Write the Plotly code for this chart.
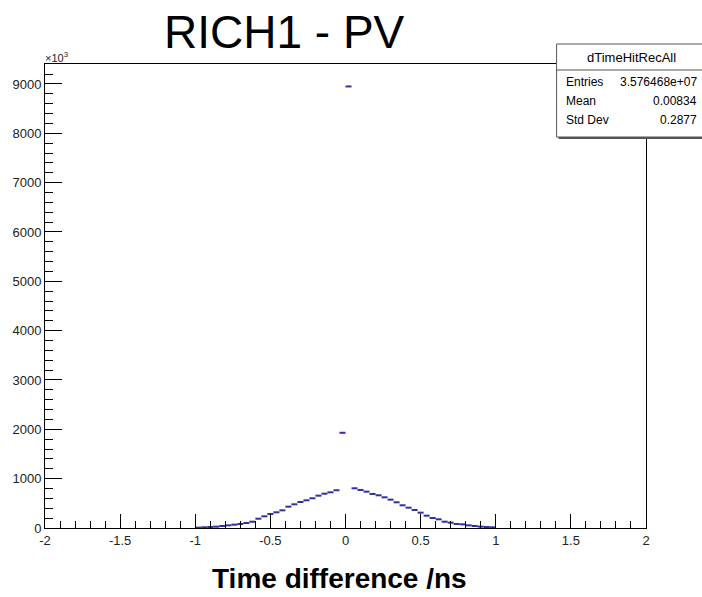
import plotly.graph_objects as go

# ---- data (values shown on the axis scale, in units of 10^3) ----
bin_centers = [-0.98, -0.94, -0.90, -0.86, -0.82, -0.78, -0.74, -0.70, -0.66, -0.62,
               -0.58, -0.54, -0.50, -0.46, -0.42, -0.38, -0.34, -0.30, -0.26, -0.22,
               -0.18, -0.14, -0.10, -0.06, -0.02, 0.02, 0.06, 0.10, 0.14, 0.18,
               0.22, 0.26, 0.30, 0.34, 0.38, 0.42, 0.46, 0.50, 0.54, 0.58,
               0.62, 0.66, 0.70, 0.74, 0.78, 0.82, 0.86, 0.90, 0.94, 0.98]
bin_counts = [7, 14, 20, 27, 41, 54, 68, 81, 101, 128,
              189, 237, 284, 318, 358, 433, 480, 527, 561, 602,
              656, 696, 723, 765, 1930, 8950, 805, 771, 737, 690,
              663, 622, 575, 521, 460, 412, 365, 311, 250, 203,
              176, 128, 108, 81, 74, 54, 41, 27, 20, 14]
bin_half_width = 0.02

x_ticks = [-2, -1.5, -1, -0.5, 0, 0.5, 1, 1.5, 2]
x_tick_labels = ["-2", "-1.5", "-1", "-0.5", "0", "0.5", "1", "1.5", "2"]
y_ticks = [0, 1000, 2000, 3000, 4000, 5000, 6000, 7000, 8000, 9000]
y_tick_labels = ["0", "1000", "2000", "3000", "4000", "5000", "6000", "7000", "8000", "9000"]

stats_title = "dTimeHitRecAll"
stats_names = ["Entries", "Mean", "Std Dev"]
stats_values = ["3.576468e+07", "0.00834", "0.2877"]

FONT = "Liberation Sans, Arial, Helvetica, sans-serif"
W, H = 702, 597
L, R, T, B = 41, 56, 64, 69
pw, ph = W - L - R, H - T - B


def px(x):
    return (x - L) / pw


def py(y):
    return (H - B - y) / ph


fig = go.Figure()
fig.add_trace(go.Scatter(
    x=bin_centers, y=bin_counts, mode="markers",
    marker=dict(size=1, color="#30309f"),
    error_x=dict(type="constant", value=bin_half_width, width=0,
                 thickness=2, color="#30309f"),
    showlegend=False, hoverinfo="x+y",
))

fig.update_layout(
    width=W, height=H,
    margin=dict(l=L, r=R, t=T, b=B, pad=0),
    paper_bgcolor="white", plot_bgcolor="white",
    font=dict(family=FONT, color="black"),
    xaxis=dict(
        range=[-2, 2], tickvals=x_ticks, ticktext=x_tick_labels,
        ticks="inside", ticklen=14, tickwidth=1, tickcolor="black",
        minor=dict(ticks="inside", dtick=0.1, ticklen=7, tickcolor="black", showgrid=False),
        showgrid=False, zeroline=False, showline=True, linecolor="black",
        linewidth=1, mirror=True, tickfont=dict(size=13, family=FONT, color="#222222"),
    ),
    yaxis=dict(
        range=[0, 9405], tickvals=y_ticks, ticktext=y_tick_labels,
        ticks="inside", ticklen=17, tickwidth=1, tickcolor="black",
        minor=dict(ticks="inside", dtick=200, ticklen=8, tickcolor="black", showgrid=False),
        showgrid=False, zeroline=False, showline=True, linecolor="black",
        linewidth=1, mirror=True, tickfont=dict(size=13, family=FONT, color="#222222"),
    ),
)

ann = []
# main title
ann.append(dict(text="RICH1 - PV", x=px(282), y=py(32), xref="paper", yref="paper",
                xanchor="center", yanchor="middle", showarrow=False,
                font=dict(size=46, family=FONT, color="black")))
# x axis title
ann.append(dict(text="<b>Time difference /ns</b>", x=px(337), y=py(578), xref="paper", yref="paper",
                xanchor="center", yanchor="middle", showarrow=False,
                font=dict(size=28, family=FONT, color="black")))
# exponent label
ann.append(dict(text="×10<sup>3</sup>", x=px(39), y=py(57), xref="paper", yref="paper",
                xanchor="left", yanchor="middle", showarrow=False,
                font=dict(size=11, family=FONT, color="#222222")))

# stats box
bx0, bx1, by0, by1, bsep = 556, 704, 44, 137, 70
shapes = [
    dict(type="rect", xref="paper", yref="paper", x0=px(bx0 + 2), x1=px(bx1 + 2),
         y0=py(by0 + 2), y1=py(by1 + 2), line=dict(width=0), fillcolor="#555555", layer="above"),
    dict(type="rect", xref="paper", yref="paper", x0=px(bx0), x1=px(bx1),
         y0=py(by0), y1=py(by1), line=dict(width=1, color="#555555"), fillcolor="white", layer="above"),
    dict(type="line", xref="paper", yref="paper", x0=px(bx0), x1=px(bx1),
         y0=py(bsep), y1=py(bsep), line=dict(width=1, color="#555555"), layer="above"),
]
ann.append(dict(text=stats_title, x=px(631), y=py(58), xref="paper", yref="paper",
                xanchor="center", yanchor="middle", showarrow=False,
                font=dict(size=13, family=FONT, color="black")))
row_y = [82, 101, 120]
for name, val, yy in zip(stats_names, stats_values, row_y):
    ann.append(dict(text=name, x=px(563), y=py(yy), xref="paper", yref="paper",
                    xanchor="left", yanchor="middle", showarrow=False,
                    font=dict(size=12, family=FONT, color="black")))
    ann.append(dict(text=val, x=px(699), y=py(yy), xref="paper", yref="paper",
                    xanchor="right", yanchor="middle", showarrow=False,
                    font=dict(size=12, family=FONT, color="black")))

fig.update_layout(annotations=ann, shapes=shapes)
fig.write_html("out.html")
